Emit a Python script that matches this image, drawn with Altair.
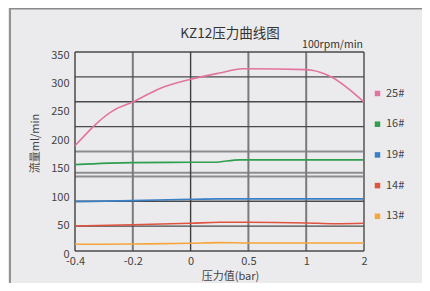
import json
import altair as alt
import pandas as pd

# ---- data ----
title_text = "KZ12压力曲线图"
unit_text = "100rpm/min"
x_title = "压力值(bar)"
y_title = "流量ml/min"
x_labels = ["-0.4", "-0.2", "0", "0.5", "1", "2"]
y_ticks = [0, 50, 100, 150, 200, 250, 300, 350]

series_names = ["25#", "16#", "19#", "14#", "13#"]
series_colors = ["#e2739e", "#2f9e4f", "#3b7fc4", "#e0533f", "#f5a53b"]

s25_x = [0, 0.66, 1, 1.47, 2, 2.5, 2.9, 3, 4, 4.1, 4.42, 5]
s25_y = [185, 247, 262, 286, 302, 313, 320.5, 320.5, 319, 318, 307, 262]
s16_x = [0, 1, 2, 2.4, 2.85, 3, 4, 5]
s16_y = [152, 155.5, 156, 156, 160.3, 160.3, 160.3, 160.3]
s19_x = [0, 1, 2, 2.5, 3, 4, 5]
s19_y = [86.8, 88.6, 91, 91.6, 91.6, 91.6, 91.6]
s14_x = [0, 1, 2, 2.5, 3, 4, 4.5, 5]
s14_y = [44, 46.3, 48.8, 50.5, 50.5, 49.3, 48, 48.8]
s13_x = [0, 1, 2, 2.5, 3, 4, 5]
s13_y = [11.8, 12.3, 13.5, 14.7, 14.1, 14.1, 14.1]

grid_dark_y = [350, 306.25, 262.5, 218.75, 87.5, 43.75, 0]
grid_gray_y = [175, 137.5, 131.25]
grid_dark_x = [0, 2]
grid_gray_x = [1, 3, 4, 5]

# ---- tables ----
rows = []
for name, xs, ys in zip(series_names,
                        [s25_x, s16_x, s19_x, s14_x, s13_x],
                        [s25_y, s16_y, s19_y, s14_y, s13_y]):
    for xv, yv in zip(xs, ys):
        rows.append({"series": name, "idx": xv, "flow": yv})
df = pd.DataFrame(rows)

FONT = "Noto Sans CJK SC"
W, H = 289, 199

x_scale = alt.Scale(domain=[0, 5], nice=False, zero=False)
y_scale = alt.Scale(domain=[0, 350], nice=False, zero=False)

label_expr = json.dumps(x_labels) + "[datum.value]"

x_axis = alt.Axis(values=list(range(len(x_labels))), labelExpr=label_expr,
                  title=x_title, grid=False, ticks=False, domain=False,
                  labelFont=FONT, labelFontSize=11, labelColor="#444",
                  labelPadding=4, labelFlush=False,
                  titleFont=FONT, titleFontSize=11, titleColor="#444",
                  titleFontWeight="normal", titleX=155, titleY=25,
                  titleBaseline="middle", titleAlign="center")
y_axis = alt.Axis(values=y_ticks, title=y_title, grid=False, ticks=False,
                  domain=False, labelFont=FONT, labelFontSize=11,
                  labelColor="#444", labelPadding=6, labelOffset=3,
                  titleFont=FONT, titleFontSize=11, titleColor="#444",
                  titleFontWeight="normal", titleX=-40, titleY=91,
                  titleAngle=-90, titleBaseline="middle",
                  titleAlign="center")

lines = alt.Chart(df).mark_line(interpolate="monotone", strokeWidth=1.6).encode(
    x=alt.X("idx:Q", scale=x_scale, axis=x_axis, title=x_title),
    y=alt.Y("flow:Q", scale=y_scale, axis=y_axis, title=y_title),
    color=alt.Color("series:N", sort=series_names,
                    scale=alt.Scale(domain=series_names, range=series_colors),
                    legend=alt.Legend(title=None, orient="none", legendX=297,
                                      legendY=36, symbolType="square",
                                      symbolSize=1, symbolStrokeWidth=4.5,
                                      labelFont=FONT, labelFontSize=11,
                                      labelColor="#444", labelOffset=3,
                                      rowPadding=11.7, padding=0)),
    order="idx:Q",
)

def hrules(vals, color, width):
    return alt.Chart(pd.DataFrame({"v": vals})).mark_rule(
        color=color, strokeWidth=width).encode(
        y=alt.Y("v:Q", scale=y_scale, axis=y_axis, title=y_title))

def vrules(vals, color, width):
    return alt.Chart(pd.DataFrame({"v": vals})).mark_rule(
        color=color, strokeWidth=width).encode(
        x=alt.X("v:Q", scale=x_scale, axis=x_axis, title=x_title))

frame = alt.Chart(pd.DataFrame({"a": [0]})).mark_rect(
    fill=None, stroke="#8a8a8a", strokeWidth=1.8).encode(
    x=alt.value(-65), y=alt.value(-43.5), x2=alt.value(1000), y2=alt.value(1000))

title = alt.Chart(pd.DataFrame({"t": [title_text]})).mark_text(
    font=FONT, fontSize=13.5, color="#333", align="center", baseline="middle").encode(
    text="t:N", x=alt.value(155), y=alt.value(-18.5))

unit = alt.Chart(pd.DataFrame({"t": [unit_text]})).mark_text(
    font=FONT, fontSize=10.5, color="#333", align="right", baseline="middle").encode(
    text="t:N", x=alt.value(288), y=alt.value(-7))

chart = alt.layer(
    frame,
    hrules(grid_gray_y, "#8e8e8e", 2),
    vrules(grid_gray_x, "#7a7a7a", 2),
    hrules(grid_dark_y, "#4a4a4a", 1.4),
    vrules(grid_dark_x, "#3f3f3f", 1.4),
    lines,
    title,
    unit,
).properties(
    width=W, height=H,
    autosize=alt.AutoSizeParams(type="none"),
    padding={"left": 67, "top": 44, "right": 58, "bottom": 32},
    background="#ebebee",
).configure_view(stroke=None)

chart.save("out.html", embed_options={"renderer": "svg", "actions": False})
